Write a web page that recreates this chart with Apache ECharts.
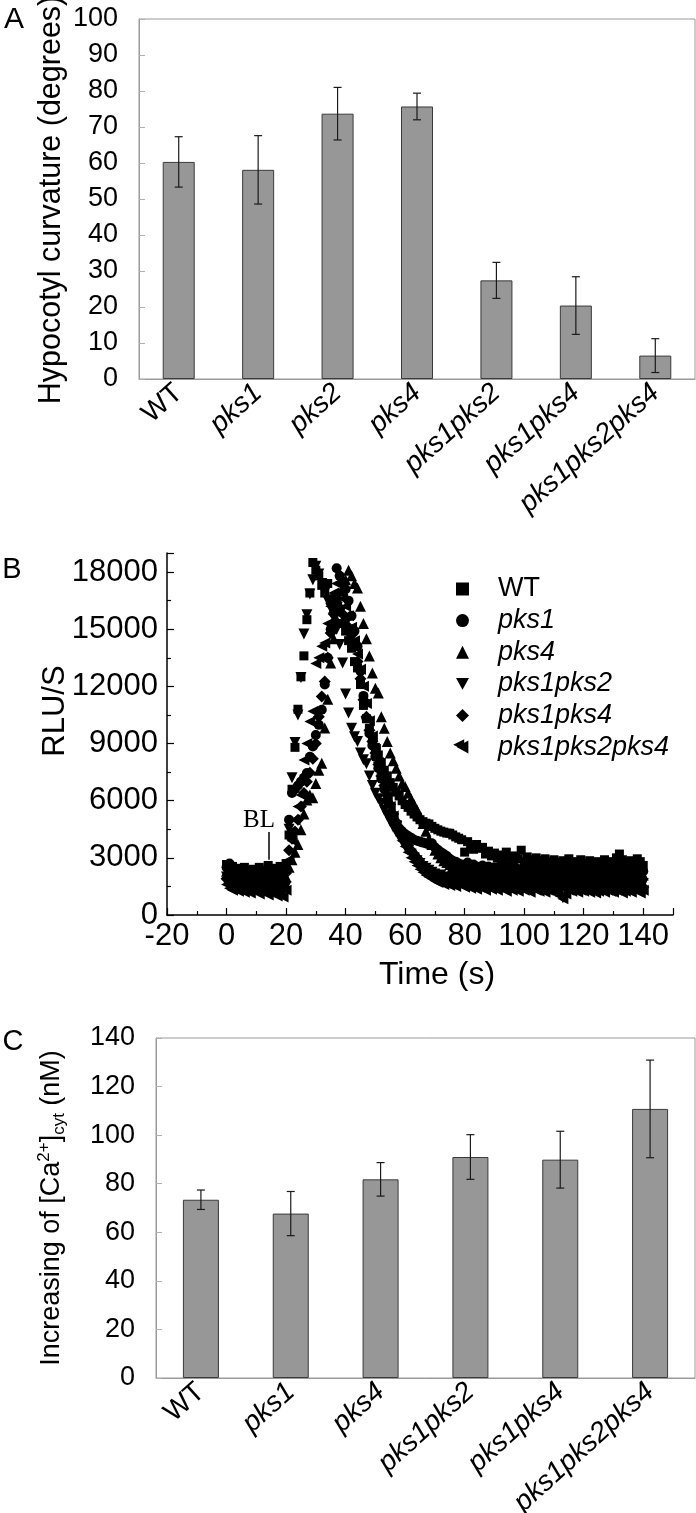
<!DOCTYPE html>
<html>
<head>
<meta charset="utf-8">
<script src="https://cdn.jsdelivr.net/npm/echarts@6/dist/echarts.min.js"></script>
<style>
html,body{margin:0;padding:0;background:#fff;}
#chart{width:696px;height:1513px;}
</style>
</head>
<body>
<div id="chart"></div>
<script>
// ---------- Panel A ----------
const catsA = ['WT', 'pks1', 'pks2', 'pks4', 'pks1pks2', 'pks1pks4', 'pks1pks2pks4'];
const curvature = [60.3, 58.1, 73.7, 75.7, 27.4, 20.4, 6.5];
const curvatureErr = [7.0, 9.5, 7.3, 3.7, 5.0, 8.0, 4.7];

// ---------- Panel B ----------
const timeSec = [0,1,2,3,4,5,6,7,8,9,10,11,12,13,14,15,16,17,18,19,20,21,22,23,24,25,26,27,28,29,30,31,32,33,34,35,36,37,38,39,40,41,42,43,44,45,46,47,48,49,50,51,52,53,54,55,56,57,58,59,60,61,62,63,64,65,66,67,68,69,70,71,72,73,74,75,76,77,78,79,80,81,82,83,84,85,86,87,88,89,90,91,92,93,94,95,96,97,98,99,100,101,102,103,104,105,106,107,108,109,110,111,112,113,114,115,116,117,118,119,120,121,122,123,124,125,126,127,128,129,130,131,132,133,134,135,136,137,138,139,140];
const rluWT = [2650,2400,2550,2300,2450,2200,2500,2350,2100,2400,
  2250,2500,2150,2350,2600,2300,2450,2200,2550,2350,
  2700,4200,6600,8800,10800,12500,13600,15500,16900,18500,
  18100,17800,17300,16900,17400,16600,16100,16700,15900,15300,
  14900,14400,14000,13300,12970,12100,11000,10300,9800,9200,
  8800,8400,8000,7600,7300,6950,6700,6450,6250,6000,
  5800,5650,5450,5300,5150,5000,4900,4820,4780,4650,
  4550,4470,4400,4350,4300,4290,4200,4100,4030,3950,
  3300,3850,3600,3450,3700,3500,3550,3200,3350,3100,
  3250,3000,3150,2900,3300,3050,2850,3100,2950,3400,
  2800,3050,2900,2750,3000,2850,2700,2950,2800,2650,
  2900,2750,2600,2850,2700,2950,2650,2800,2550,2900,
  2700,2600,2850,2750,2550,2800,2650,2900,2700,2600,
  2800,3000,3200,2900,2750,2650,2850,2700,2950,2800,
  2600];
const rluPks1 = [2500,2700,2300,2100,2400,1950,2200,2050,1900,2150,
  2000,1850,2250,1950,2100,1800,2050,1900,2150,1850,
  2400,5000,6400,6600,6800,7000,7200,7450,8300,8850,
  9450,9980,10770,12100,13500,15000,16600,18200,17800,17500,
  17100,16500,15700,14900,14100,12800,11500,10330,9530,8900,
  8300,7700,7150,6600,6000,5340,5000,4750,4550,4400,
  4250,4150,4050,3950,3900,3850,3800,3750,3700,3770,
  3550,3420,3300,3200,3100,2950,2850,2800,2700,2650,
  2600,2750,2500,2650,2550,2450,2600,2400,2550,2350,
  2500,2400,2600,2350,2450,2550,2300,2500,2400,2350,
  2450,2300,2550,2400,2250,2500,2350,2450,2300,2400,
  2250,2450,2350,2200,2400,2300,2500,2250,2350,2400,
  2300,2450,2200,2350,2400,2250,2450,2300,2200,2400,
  2350,2250,2450,2300,2400,2200,2350,2300,2450,2250,
  2300];
const rluPks4 = [2300,2100,1900,2000,1800,2050,1750,1950,1850,1700,
  1900,1800,1650,1950,1750,1850,1600,1800,1700,1750,
  2000,2500,2900,3300,3700,4470,5300,6040,6300,6150,
  6900,7600,7970,9810,11330,13220,14500,15500,16300,17000,
  17600,18090,17800,17400,17160,16200,15300,14500,13600,12700,
  11900,11650,10400,9800,9100,8500,8100,7700,7300,6900,
  6740,6400,6100,5800,5520,5200,4800,4400,4000,3700,
  3400,3200,3000,2850,2750,2650,2550,2500,2450,2400,
  2350,2450,2300,2250,2400,2200,2350,2150,2300,2250,
  2200,2350,2100,2300,2250,2150,2300,2200,2100,2250,
  2200,2050,2300,2150,2250,2100,2200,2050,2250,2150,
  2100,2250,2000,2200,2150,2050,2250,2100,2200,2000,
  2150,2250,2050,2200,2100,2000,2250,2150,2050,2200,
  2100,2200,2000,2150,2250,2050,2100,2200,2000,2150,
  2100];
const rluPks1Pks2 = [2000,1800,1650,1900,1550,1750,1600,1850,1500,1700,
  1550,1650,1450,1700,1400,1600,1350,1550,1250,1400,
  1500,4500,7200,9050,10500,12470,14750,15760,16850,17600,
  18300,17900,17400,16900,16500,16100,15600,15000,14200,13220,
  11600,10600,9800,9360,9100,8500,8150,7940,7300,6800,
  6390,6100,5870,5500,5200,4900,4600,4350,4100,3850,
  3600,3400,3200,3000,2850,2700,2550,2450,2350,2250,
  2150,2050,2100,1950,2000,1900,2050,1850,1950,1800,
  1900,1850,1950,1750,1900,1800,1700,1850,1750,1900,
  1800,1700,1850,1750,1650,1800,1900,1700,1800,1650,
  1750,1850,1700,1600,1800,1700,1750,1650,1850,1700,
  1600,1750,1150,900,1650,1800,1700,1600,1750,1650,
  1800,1700,1600,1750,1650,1550,1700,1800,1650,1600,
  1750,1650,1550,1700,1600,1750,1650,1550,1700,1600,
  1650];
const rluPks1Pks4 = [1900,1700,1550,1800,1600,1450,1700,1500,1650,1400,
  1600,1450,1700,1500,1350,1550,1450,1600,1400,1500,
  2200,3400,4000,4380,5000,5700,6400,7000,7460,8200,
  9000,10400,11470,12260,13500,14800,15800,16400,16100,15800,
  15500,15100,14700,14100,13300,12400,11300,10400,9700,9100,
  8500,7900,7300,6800,6300,5800,5300,4900,4500,4200,
  3900,3650,3400,3200,3000,2800,2600,2450,2300,2200,
  2100,2000,1950,1850,1900,1800,1750,1850,1700,1800,
  1750,1650,1800,1700,1600,1750,1650,1550,1700,1600,
  1650,1550,1700,1600,1500,1650,1550,1700,1600,1500,
  1600,1700,1550,1650,1500,1600,1700,1550,1450,1600,
  1550,1650,1500,1600,1450,1550,1650,1500,1600,1450,
  1550,1650,1500,1450,1600,1550,1500,1650,1450,1550,
  1600,1500,1450,1550,1650,1500,1450,1600,1500,1550,
  1450];
const rluPks1Pks2Pks4 = [1600,1400,1300,1500,1250,1350,1200,1400,1150,1300,
  1250,1100,1350,1200,1050,1250,1150,1000,1100,950,
  1300,2900,3900,5000,5690,6300,8140,9000,10150,10700,
  13200,13500,14100,14270,15300,16200,16900,17400,17000,16600,
  16200,15700,15100,14400,13700,12900,12000,11100,10200,9400,
  8700,8000,7400,6800,6200,5700,5200,4700,4300,3900,
  3600,3300,3000,2800,2600,2400,2250,2100,2000,1900,
  1800,1700,1750,1600,1650,1550,1600,1500,8930,1550,
  1450,1550,1400,1500,1350,1450,1400,1300,1450,1350,
  1400,1300,1450,1350,1250,1400,1300,1350,1250,1400,
  1300,1350,1200,1400,1300,1250,1350,1200,1300,1250,
  1350,1200,1000,850,1100,1300,1250,1350,1200,1300,
  1250,1350,1200,1300,1150,1250,1350,1200,1300,1250,
  1200,1300,1350,1150,1250,1300,1200,1350,1250,1150,
  1300];
const blTime = 14.3;
const blRange = [4350, 2900];

// ---------- Panel C ----------
const catsC = ['WT', 'pks1', 'pks4', 'pks1pks2', 'pks1pks4', 'pks1pks2pks4'];
const caIncrease = [73.4, 67.7, 81.8, 91.0, 89.9, 110.8];
const caIncreaseErr = [4.0, 9.1, 6.9, 9.2, 11.7, 20.1];

// ---------- Build ----------
const FONT = '"Liberation Sans", Arial, Helvetica, sans-serif';
const chart = echarts.init(document.getElementById('chart'), null, {renderer: 'canvas'});

function pairs(arr) { return timeSec.map((t, i) => [t, arr[i]]); }
function errData(vals, errs) { return vals.map((v, i) => [i, v + errs[i], v - errs[i]]); }
function errRender(params, api) {
  const top = api.coord([api.value(0), api.value(1)]);
  const bot = api.coord([api.value(0), api.value(2)]);
  const w = 4;
  const st = {stroke: '#1a1a1a', lineWidth: 1.2};
  return {type: 'group', children: [
    {type: 'line', shape: {x1: top[0], y1: top[1], x2: bot[0], y2: bot[1]}, style: st},
    {type: 'line', shape: {x1: top[0] - w, y1: top[1], x2: top[0] + w, y2: top[1]}, style: st},
    {type: 'line', shape: {x1: bot[0] - w, y1: bot[1], x2: bot[0] + w, y2: bot[1]}, style: st}
  ]};
}
const catLabelFmt = v => v === 'WT' ? '{n|WT}' : '{i|' + v + '}';
const catRich = {
  n: {fontSize: 28, fontFamily: FONT, color: '#000'},
  i: {fontSize: 28, fontFamily: FONT, fontStyle: 'italic', color: '#000'}
};
const boxAxisLine = {show: true, lineStyle: {color: '#9a9a9a', width: 1}};

const legendRich = {
  n: {fontSize: 27, fontFamily: FONT, color: '#000', lineHeight: 28, padding: [0, 0, 0, 24]},
  i: {fontSize: 27, fontFamily: FONT, fontStyle: 'italic', color: '#000', lineHeight: 28, padding: [0, 0, 0, 24]}
};
const symDown = 'path://M0,0L10,0L5,9Z';
const symLeft = 'path://M9,0L9,10L0,5Z';

const scatterDefs = [
  {name: 'WT', data: rluWT, symbol: 'rect', size: 9},
  {name: 'pks1', data: rluPks1, symbol: 'circle', size: 10},
  {name: 'pks4', data: rluPks4, symbol: 'triangle', size: 11},
  {name: 'pks1pks2', data: rluPks1Pks2, symbol: symDown, size: 11},
  {name: 'pks1pks4', data: rluPks1Pks4, symbol: 'diamond', size: 12},
  {name: 'pks1pks2pks4', data: rluPks1Pks2Pks4, symbol: symLeft, size: 11}
];

const scatterSeries = scatterDefs.map((d, k) => {
  const s = {
    type: 'scatter', name: d.name, xAxisIndex: 1, yAxisIndex: 1,
    symbol: d.symbol, symbolSize: d.size,
    itemStyle: {color: '#000', opacity: 1},
    data: pairs(d.data), z: 3
  };
  if (k === 0) {
    s.markLine = {
      silent: true, symbol: ['none', 'none'],
      lineStyle: {color: '#000', width: 1.5, type: 'solid'},
      label: {show: false},
      data: [[{coord: [blTime, blRange[0]]}, {coord: [blTime, blRange[1]]}]]
    };
  }
  return s;
});

const option = {
  animation: false,
  backgroundColor: '#fff',
  textStyle: {fontFamily: FONT},
  grid: [
    {left: 139, top: 19, width: 556, height: 360, show: true, borderColor: '#9a9a9a', borderWidth: 1, backgroundColor: 'transparent', outerBoundsMode: 'none', containLabel: false},
    {left: 167, top: 553, width: 506, height: 362, show: false, outerBoundsMode: 'none', containLabel: false},
    {left: 156, top: 1038, width: 539, height: 340, show: true, borderColor: '#9a9a9a', borderWidth: 1, backgroundColor: 'transparent', outerBoundsMode: 'none', containLabel: false}
  ],
  xAxis: [
    {type: 'category', gridIndex: 0, data: catsA, axisLine: boxAxisLine, axisTick: {show: false},
     axisLabel: {rotate: 42, margin: 10, formatter: catLabelFmt, rich: catRich, interval: 0}, splitLine: {show: false}},
    {type: 'value', gridIndex: 1, min: -20, max: 150, interval: 20,
     axisLine: {show: true, onZero: false, lineStyle: {color: '#000', width: 1.5}},
     axisTick: {show: true, inside: true, length: 7, lineStyle: {color: '#000', width: 1.2}},
     minorTick: {show: true, splitNumber: 2, length: 4, lineStyle: {color: '#000', width: 1.2}},
     axisLabel: {fontSize: 31, color: '#000', fontFamily: FONT, margin: 6, showMaxLabel: false,
       formatter: v => String(v)},
     splitLine: {show: false}, minorSplitLine: {show: false}},
    {type: 'category', gridIndex: 2, data: catsC, axisLine: boxAxisLine, axisTick: {show: false},
     axisLabel: {rotate: 42, margin: 10, formatter: catLabelFmt, rich: catRich, interval: 0}, splitLine: {show: false}}
  ],
  yAxis: [
    {type: 'value', gridIndex: 0, min: 0, max: 100, interval: 10, axisLine: boxAxisLine,
     axisTick: {show: true, inside: true, length: 6, lineStyle: {color: '#b0b0b0'}},
     axisLabel: {fontSize: 27, color: '#000', fontFamily: FONT, margin: 21}, splitLine: {show: false}},
    {type: 'value', gridIndex: 1, min: 0, max: 19000, interval: 3000,
     axisLine: {show: true, onZero: false, lineStyle: {color: '#000', width: 1.5}},
     axisTick: {show: true, inside: true, length: 7, lineStyle: {color: '#000', width: 1.2}},
     minorTick: {show: true, splitNumber: 2, length: 4, lineStyle: {color: '#000', width: 1.2}},
     axisLabel: {fontSize: 31, color: '#000', fontFamily: FONT, margin: 9, showMaxLabel: false,
       formatter: v => String(v)},
     splitLine: {show: false}, minorSplitLine: {show: false}},
    {type: 'value', gridIndex: 2, min: 0, max: 140, interval: 20, axisLine: boxAxisLine,
     axisTick: {show: true, inside: true, length: 6, lineStyle: {color: '#b0b0b0'}},
     axisLabel: {fontSize: 27, color: '#000', fontFamily: FONT, margin: 21}, splitLine: {show: false}}
  ],
  legend: {
    show: true, orient: 'vertical', left: 451, top: 570,
    itemWidth: 13, itemHeight: 13, itemGap: 3.6, selectedMode: false,
    data: scatterDefs.map(d => ({name: d.name, icon: d.symbol})),
    formatter: n => n === 'WT' ? '{n|WT}' : '{i|' + n + '}',
    textStyle: {fontSize: 27, lineHeight: 28, color: '#000', fontFamily: FONT, rich: legendRich},
    itemStyle: {color: '#000'}
  },
  series: [
    {type: 'bar', xAxisIndex: 0, yAxisIndex: 0, data: curvature, barWidth: 32,
     itemStyle: {color: '#979797', borderColor: '#3a3a3a', borderWidth: 1}, z: 2},
    {type: 'custom', xAxisIndex: 0, yAxisIndex: 0, renderItem: errRender,
     data: errData(curvature, curvatureErr), z: 5},
    ...scatterSeries,
    {type: 'bar', xAxisIndex: 2, yAxisIndex: 2, data: caIncrease, barWidth: 36,
     itemStyle: {color: '#979797', borderColor: '#3a3a3a', borderWidth: 1}, z: 2},
    {type: 'custom', xAxisIndex: 2, yAxisIndex: 2, renderItem: errRender,
     data: errData(caIncrease, caIncreaseErr), z: 5}
  ]
};
chart.setOption(option);

// ---------- Text annotations ----------
const blPx = chart.convertToPixel({xAxisIndex: 1, yAxisIndex: 1}, [blTime, blRange[0]]);
function txt(text, x, y, size, opts) {
  return Object.assign({type: 'text', x: x, y: y, silent: true, z: 10,
    style: Object.assign({text: text, fontSize: size, fontFamily: FONT, fill: '#000',
      align: 'center', verticalAlign: 'middle'}, (opts && opts.style) || {})},
    (opts && opts.el) || {});
}
const graphics = [
  txt('A', 14, 20, 30),
  txt('B', 12, 570, 29),
  txt('C', 13, 1042, 29),
  txt('Hypocotyl curvature (degrees)', 52, 200, 30.5, {el: {rotation: Math.PI / 2}}),
  txt('RLU/S', 55, 711, 31, {el: {rotation: Math.PI / 2}}),
  txt('Time (s)', 437, 975, 32),
  txt('BL', blPx[0] - 10, blPx[1] - 12, 25, {style: {fontFamily: '"Liberation Serif", "Times New Roman", serif'}}),
  {type: 'text', x: 52, y: 1208, rotation: Math.PI / 2, silent: true, z: 10,
   style: {text: '{m|Increasing of [Ca}{sup|2+}{m|]}{sub|cyt}{m| (nM)}', align: 'center', verticalAlign: 'middle',
     fontSize: 27, fontFamily: FONT, fill: '#000',
     rich: {
       m: {fontSize: 27, fontFamily: FONT, fill: '#000', lineHeight: 32},
       sup: {fontSize: 17, fontFamily: FONT, fill: '#000', lineHeight: 17, verticalAlign: 'top'},
       sub: {fontSize: 17, fontFamily: FONT, fill: '#000', lineHeight: 17, verticalAlign: 'bottom'}
     }}}
];
chart.setOption({graphic: graphics});
</script>
</body>
</html>
